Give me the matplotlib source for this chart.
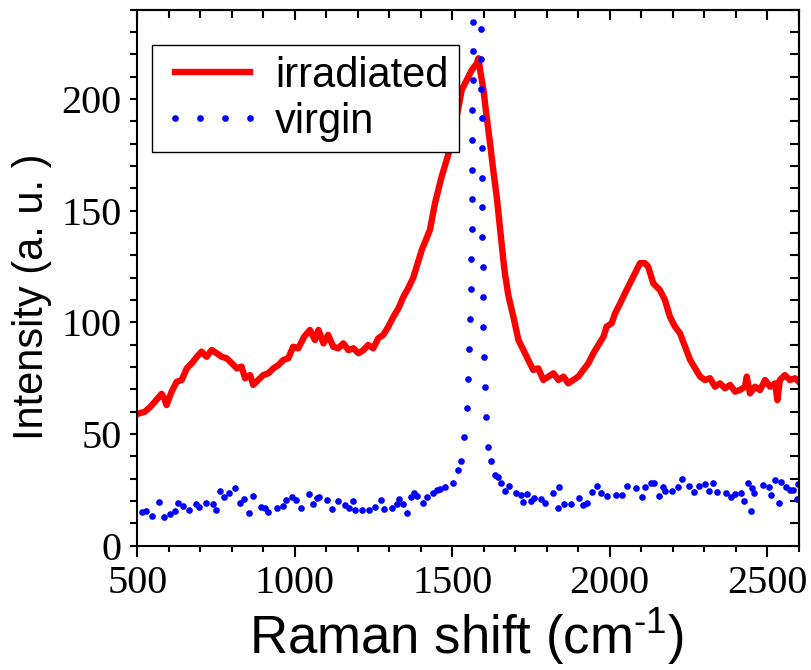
import numpy as np
import matplotlib
matplotlib.use("Agg")
import matplotlib.pyplot as plt
from matplotlib.ticker import MultipleLocator

plt.rcParams['mathtext.fontset'] = 'custom'
plt.rcParams['mathtext.rm'] = 'Liberation Sans'
plt.rcParams['mathtext.it'] = 'Liberation Sans'

# irradiated spectrum
x_irr = [500, 524, 540, 556, 577, 585, 593, 609, 625, 641, 657, 673, 689, 704, 720, 736,
         752, 768, 784, 800, 816, 831, 842, 858, 868, 884, 900, 916, 932, 948, 964, 979,
         995, 1011, 1030, 1048, 1064, 1075, 1091, 1106, 1122, 1138, 1154, 1170, 1186, 1202,
         1218, 1233, 1249, 1265, 1281, 1297, 1313, 1329, 1345, 1360, 1376, 1403, 1429, 1445,
         1466, 1482, 1498, 1514, 1530, 1546, 1562, 1578, 1583, 1590, 1599, 1609, 1620, 1630,
         1641, 1652, 1662, 1667, 1678, 1694, 1710, 1726, 1741, 1757, 1773, 1789, 1805, 1821,
         1837, 1853, 1868, 1884, 1900, 1916, 1932, 1948, 1964, 1980, 1990, 2006, 2017, 2033,
         2048, 2064, 2080, 2096, 2112, 2122, 2138, 2159, 2175, 2191, 2207, 2223, 2239, 2255,
         2271, 2287, 2302, 2318, 2334, 2350, 2366, 2382, 2398, 2413, 2429, 2435, 2445, 2461,
         2477, 2493, 2509, 2525, 2532, 2540, 2556, 2572, 2588, 2600]
y_irr = [59.0, 60.0, 62.0, 64.5, 68.0, 66.0, 63.0, 69.0, 73.4, 74.2, 79.4, 81.7, 84.6, 86.9,
         84.6, 87.6, 86.2, 84.6, 83.9, 81.7, 79.4, 80.2, 75.0, 76.4, 72.0, 74.2, 76.4, 77.2,
         79.4, 80.9, 83.2, 83.9, 89.1, 88.4, 93.6, 96.6, 92.1, 96.6, 90.6, 94.4, 89.1, 88.4,
         90.6, 87.6, 88.4, 86.2, 87.6, 89.9, 88.4, 92.9, 94.4, 98.1, 102.5, 106.3, 111.5,
         115.3, 120.0, 132.4, 141.4, 153.3, 165.2, 172.7, 180.2, 192.1, 204.1, 208.5, 213.0,
         216.0, 218.3, 211.5, 204.1, 192.1, 180.2, 168.2, 156.3, 141.4, 128.0, 122.0, 112.0,
         102.5, 92.1, 87.6, 83.2, 78.7, 79.4, 74.2, 75.7, 77.2, 74.2, 75.7, 72.7, 74.2, 75.7,
         78.7, 81.7, 86.2, 89.9, 93.6, 98.1, 99.6, 104.1, 108.5, 113.0, 117.5, 122.0, 126.5,
         126.5, 124.9, 117.5, 114.5, 110.0, 102.5, 98.1, 95.1, 89.1, 83.2, 79.4, 75.7, 74.2,
         75.0, 71.2, 72.7, 70.5, 72.0, 69.0, 69.7, 71.2, 75.7, 68.2, 71.2, 69.7, 74.2, 71.2,
         72.7, 65.2, 74.2, 76.4, 74.2, 75.0, 73.4]

# virgin spectrum (dots)
x_vir = [514, 528, 546, 569, 586, 604, 621, 630, 646, 663, 685, 696, 718, 741, 750, 763,
         775, 792, 810, 826, 840, 854, 868, 893, 906, 914, 944, 962, 972, 990, 1004, 1019,
         1046, 1057, 1070, 1078, 1101, 1117, 1138, 1160, 1173, 1184, 1192, 1213, 1235, 1255,
         1273, 1284, 1308, 1324, 1332, 1345, 1355, 1369, 1379, 1387, 1408, 1421, 1438, 1451,
         1461, 1477, 1501, 1517, 1527, 1538, 1548, 1551, 1554, 1557, 1560, 1560, 1563, 1563,
         1563, 1563, 1564, 1565, 1566, 1566, 1590, 1591, 1591, 1593, 1593, 1593, 1595, 1595,
         1598, 1598, 1599, 1602, 1604, 1607, 1613, 1623, 1636, 1646, 1655, 1667, 1681, 1701,
         1717, 1726, 1738, 1749, 1761, 1782, 1795, 1821, 1835, 1839, 1856, 1877, 1902, 1916,
         1929, 1943, 1959, 1971, 1992, 2019, 2038, 2056, 2083, 2102, 2112, 2130, 2141, 2157,
         2168, 2176, 2197, 2218, 2230, 2253, 2268, 2283, 2303, 2316, 2327, 2342, 2368, 2384,
         2396, 2416, 2427, 2440, 2448, 2451, 2459, 2488, 2506, 2511, 2525, 2538, 2544, 2560,
         2572, 2581, 2594, 2599]
y_vir = [15.0, 15.7, 13.3, 19.6, 12.7, 14.3, 15.7, 19.3, 17.8, 16.0, 18.7, 17.5, 19.0, 18.7,
         16.0, 24.6, 21.9, 23.5, 25.7, 19.3, 21.0, 14.5, 22.3, 17.2, 16.7, 15.2, 16.7, 17.8,
         20.5, 21.7, 20.5, 16.7, 23.2, 18.7, 21.2, 21.9, 20.5, 16.3, 20.2, 18.2, 16.7, 19.9,
         16.0, 16.0, 16.0, 17.5, 20.5, 16.4, 16.7, 18.7, 20.9, 18.7, 14.5, 21.7, 23.5, 22.3,
         19.0, 21.7, 23.5, 24.9, 25.5, 26.4, 28.2, 33.9, 37.8, 48.8, 61.5, 74.6, 88.1, 101.5,
         115.0, 128.4, 141.7, 155.1, 168.2, 181.7, 195.1, 208.5, 221.7, 234.6, 231.4, 218.0,
         204.6, 191.6, 178.1, 164.7, 151.7, 138.2, 124.7, 111.3, 97.8, 84.4, 71.1, 57.8, 44.3,
         38.1, 31.5, 30.9, 27.9, 24.6, 26.7, 23.7, 22.7, 19.7, 23.2, 20.0, 21.2, 20.8, 19.3,
         23.5, 16.7, 26.2, 18.7, 18.7, 21.5, 18.2, 19.3, 23.9, 26.9, 23.5, 22.4, 22.7, 22.7,
         26.9, 25.7, 21.9, 26.2, 28.2, 28.2, 22.4, 26.4, 24.6, 24.6, 26.2, 29.7, 26.7, 24.2,
         26.7, 27.6, 24.6, 28.2, 24.2, 23.7, 21.7, 23.2, 23.5, 20.2, 28.2, 15.7, 25.7, 23.7,
         27.2, 26.4, 22.7, 29.4, 19.0, 28.7, 26.2, 24.9, 24.9, 20.9, 27.6]

x_ticks = [500, 1000, 1500, 2000, 2500]
y_ticks = [0, 50, 100, 150, 200]

fig = plt.figure(figsize=(8.12, 6.70), dpi=100)
fig.patch.set_facecolor('#ffffff')
ax = fig.add_axes([0.1691, 0.1855, 0.8146, 0.8000])

ax.plot(x_irr, y_irr, color='#ff0000', lw=4.6, solid_joinstyle='round', label='irradiated')
ax.plot(x_vir, y_vir, color='#0000ff', ls='none', marker='o', ms=4.8, mew=0, label='virgin')

ax.set_xlim(500, 2600)
ax.set_ylim(0, 240)
ax.set_xticks(x_ticks)
ax.set_yticks(y_ticks)
ax.xaxis.set_minor_locator(MultipleLocator(100))
ax.yaxis.set_minor_locator(MultipleLocator(10))

for s in ax.spines.values():
    s.set_linewidth(1.5)

ax.tick_params(axis='x', which='major', direction='out', length=8, width=1.5, top=False)
ax.tick_params(axis='x', which='minor', direction='out', length=4.5, width=1.5, top=False)
ax.tick_params(axis='y', which='both', direction='out', length=5, width=1.5, right=False)

for lab in ax.get_xticklabels() + ax.get_yticklabels():
    lab.set_family('Liberation Serif')
    lab.set_fontsize(29)
ax.tick_params(axis='x', pad=6)
ax.tick_params(axis='y', pad=6.5)

# mirrored ticks pointing inward on top and right
top = ax.secondary_xaxis('top')
top.set_xticks(x_ticks)
top.xaxis.set_minor_locator(MultipleLocator(100))
top.tick_params(which='major', direction='in', length=7, width=1.5, labeltop=False)
top.tick_params(which='minor', direction='in', length=5.5, width=1.5)
top.spines['top'].set_linewidth(1.5)

right = ax.secondary_yaxis('right')
right.set_yticks(y_ticks)
right.yaxis.set_minor_locator(MultipleLocator(10))
right.tick_params(which='both', direction='in', length=6.5, width=1.5, labelright=False)
right.spines['right'].set_linewidth(1.5)

ax.set_xlabel('Raman shift (cm$^{\\text{-1}}$)', family='Liberation Sans', fontsize=38)
ax.set_ylabel('Intensity (a. u. )', family='Liberation Sans', fontsize=30)
ax.xaxis.set_label_coords(0.498, -0.113)
ax.yaxis.set_label_coords(-0.129, 0.464)

leg = ax.legend(loc='upper left', bbox_to_anchor=(0.022, 0.934), borderaxespad=0,
                prop={'family': 'Liberation Sans', 'size': 30}, numpoints=4,
                handlelength=2.4, handletextpad=0.3, labelspacing=0.15,
                borderpad=0.25, fancybox=False, frameon=True)
leg.get_frame().set_edgecolor('black')
leg.get_frame().set_linewidth(1.0)
leg.get_frame().set_alpha(1)

fig.savefig('out.png', dpi=100, facecolor='#ffffff')
